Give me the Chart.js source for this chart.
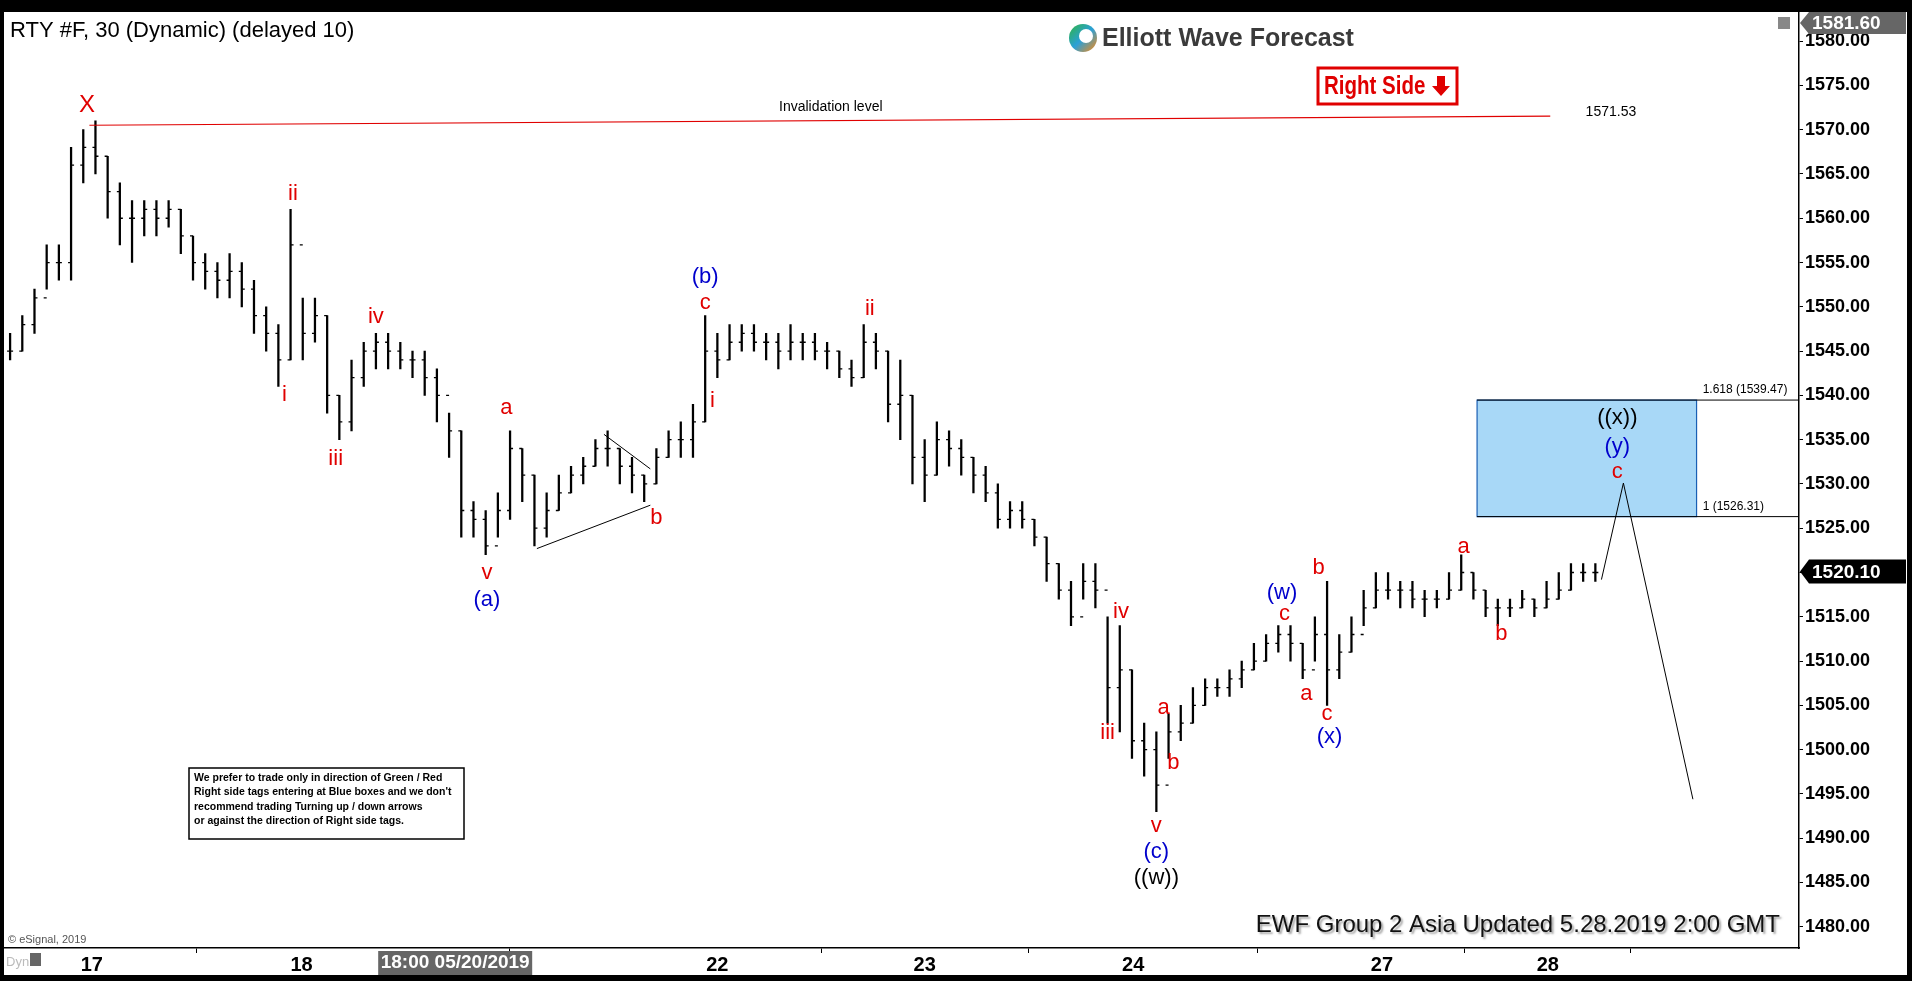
<!DOCTYPE html>
<html><head><meta charset="utf-8">
<script src="https://cdn.jsdelivr.net/npm/chart.js@4.4.1/dist/chart.umd.min.js"></script>
<style>html,body{margin:0;padding:0;background:#000;}#wrap{width:1912px;height:981px;}</style>
</head><body><div id="wrap"><canvas id="c" width="1912" height="981"></canvas></div>
<script>
// ---- data (one bar per ~10 reference px, 30-min RTY futures) ----
const highs = [1547,1549,1552,1557,1557,1568,1570,1571,1567,1564,1562,1562,1562,1562,1561,1558,1556,1555,1556,1555,1553,1550,1548,1561,1551,1551,1549,1540,1544,1546,1547,1547,1546,1545,1545,1543,1538,1536,1528,1527,1529,1536,1534,1531,1529,1531,1532,1533,1535,1536,1534,1533,1531,1534,1536,1537,1539,1549,1547,1548,1548,1548,1547,1547,1548,1547,1547,1546,1545,1544,1548,1547,1545,1544,1540,1535,1537,1536,1535,1533,1532,1530,1528,1528,1526,1524,1521,1519,1521,1521,1515,1514,1509,1503,1502,1504,1505,1507,1508,1508,1509,1510,1512,1513,1514,1514,1512,1515,1519,1513,1515,1518,1520,1520,1519,1519,1518,1518,1520,1522,1520,1518,1517,1517,1518,1517,1519,1520,1521,1521,1521];
const lows  = [1544,1545,1547,1552,1553,1553,1564,1565,1560,1557,1555,1558,1558,1559,1556,1553,1552,1551,1551,1550,1547,1545,1541,1544,1544,1546,1538,1535,1536,1541,1543,1543,1543,1542,1540,1537,1533,1524,1524,1522,1524,1526,1528,1523,1524,1527,1529,1530,1532,1532,1530,1529,1528,1530,1533,1533,1533,1537,1542,1544,1545,1545,1544,1543,1544,1544,1544,1543,1542,1541,1542,1543,1537,1535,1530,1528,1531,1532,1531,1529,1528,1525,1525,1525,1523,1519,1517,1514,1517,1516,1503,1502,1499,1497,1493,1499,1501,1503,1505,1506,1506,1507,1509,1510,1511,1510,1508,1510,1505,1508,1511,1514,1516,1517,1516,1516,1515,1516,1517,1518,1517,1515,1514,1515,1516,1515,1516,1517,1518,1519,1519];
const closes= [1545,1548,1551,1555,1555,1566,1568,1567,1563,1560,1560,1561,1560,1561,1558,1555,1554,1553,1554,1552,1549,1547,1544,1557,1547,1549,1540,1537,1542,1545,1546,1545,1544,1544,1542,1540,1536,1527,1526,1523,1527,1534,1531,1525,1527,1529,1531,1532,1534,1534,1532,1531,1530,1533,1535,1535,1537,1545,1544,1546,1547,1546,1546,1545,1546,1546,1545,1545,1543,1542,1546,1545,1539,1540,1533,1531,1535,1534,1533,1531,1529,1526,1527,1526,1524,1521,1518,1515,1519,1518,1507,1509,1501,1500,1496,1502,1503,1505,1507,1507,1508,1509,1510,1512,1513,1512,1509,1513,1509,1511,1513,1516,1518,1518,1518,1517,1517,1517,1518,1520,1518,1516,1516,1516,1517,1516,1517,1518,1520,1520,1520];
const dayTickPos = [7.2, 24.4, 58.5, 75.5, 92.6, 113, 126.6];
const dayTickLabels = ["17","18","22","23","24","27","28"];
const invalidation = 1571.53;
const fibHigh = 1539.47, fibLow = 1526.31;
const lastPrice = 1520.10, topPrice = 1581.60;
// wave labels: [text, x (bar units), price, colour]
const R='#e00000', B='#0000cc', K='#000';
const waveLabels = [
 ["X",6.8,1572.7,R],["ii",23.7,1562.7,R],["i",23.0,1540.0,R],["iii",27.2,1532.8,R],["iv",30.5,1548.9,R],
 ["v",39.6,1519.9,R],["(a)",39.6,1516.9,B],["a",41.2,1538.6,R],["b",53.5,1526.2,R],
 ["(b)",57.5,1553.4,B],["c",57.5,1550.4,R],["i",58.1,1539.4,R],["ii",71.0,1549.8,R],
 ["iv",91.6,1515.5,R],["iii",90.5,1501.9,R],["a",95.1,1504.7,R],["b",95.9,1498.5,R],
 ["v",94.5,1491.4,R],["(c)",94.5,1488.5,B],["((w))",94.5,1485.5,K],
 ["(w)",104.8,1517.7,B],["c",105.0,1515.3,R],["a",106.8,1506.3,R],["b",107.8,1520.5,R],["c",108.5,1504.0,R],["(x)",108.7,1501.4,B],
 ["a",119.7,1522.9,R],["b",122.8,1513.1,R],["((x))",132.3,1537.5,K],["(y)",132.3,1534.2,B],["c",132.3,1531.4,R]
];
const triangleLines = [[[43.7,1522.7],[53.0,1527.6]],[[49.2,1535.6],[53.0,1531.7]]];
const projection = [[131.0,1519.2],[132.8,1530.1],[138.5,1494.4]];
const invLine = [[7.0,1570.5],[126.8,invalidation]];
const boxX = [120.8, 138.8];

const barData = highs.map((h,i)=>({x:i+0.5, y:[lows[i],h]}));
const FONT = '"Liberation Sans", Arial, sans-serif';

const deco = {
 id:'deco',
 beforeDraw(c){ const g=c.ctx; g.save(); g.fillStyle='#fff'; g.fillRect(0,0,1912,981); g.restore(); },
 afterDatasetsDraw(c){
  const g=c.ctx, xs=c.scales.x, ys=c.scales.y, a=c.chartArea;
  const X=v=>xs.getPixelForValue(v), Y=v=>ys.getPixelForValue(v);
  g.save();
  g.beginPath(); g.rect(a.left,a.top,a.right-a.left,a.bottom-a.top); g.clip();
  g.strokeStyle='#000'; g.lineWidth=1.3;
  closes.forEach((cl,i)=>{ const op=i?closes[i-1]:cl; const x=X(i+0.5);
    g.beginPath(); g.moveTo(x-3,Y(op)); g.lineTo(x,Y(op)); g.moveTo(x,Y(cl)); g.lineTo(x+3,Y(cl)); g.stroke(); });
  const bx1=X(boxX[0]), bx2=X(boxX[1]), by1=Y(fibHigh), by2=Y(fibLow);
  g.fillStyle='#a8d8f7'; g.fillRect(bx1,by1,bx2-bx1,by2-by1);
  g.strokeStyle='#1a5fb4'; g.lineWidth=1.2; g.strokeRect(bx1,by1,bx2-bx1,by2-by1);
  g.strokeStyle='#000'; g.lineWidth=1;
  g.beginPath(); g.moveTo(bx1,by1); g.lineTo(a.right,by1); g.moveTo(bx1,by2); g.lineTo(a.right,by2); g.stroke();
  g.font='12px '+FONT; g.fillStyle='#000'; g.textAlign='left'; g.textBaseline='middle';
  g.fillText('1.618 ('+fibHigh.toFixed(2)+')', X(139.3), by1-10);
  g.fillText('1 ('+fibLow.toFixed(2)+')', X(139.3), by2-10);
  g.strokeStyle='#e00000'; g.lineWidth=1.2;
  g.beginPath(); g.moveTo(X(invLine[0][0]),Y(invLine[0][1])); g.lineTo(X(invLine[1][0]),Y(invLine[1][1])); g.stroke();
  g.font='14px '+FONT; g.fillStyle='#000'; g.textAlign='center';
  g.fillText('Invalidation level', X(67.8), Y(1572.6));
  g.textAlign='left'; g.fillText(invalidation.toFixed(2), X(129.7), Y(1572.0));
  g.strokeStyle='#000'; g.lineWidth=1;
  triangleLines.forEach(l=>{g.beginPath(); g.moveTo(X(l[0][0]),Y(l[0][1])); g.lineTo(X(l[1][0]),Y(l[1][1])); g.stroke();});
  g.beginPath(); projection.forEach((p,i)=>{ i?g.lineTo(X(p[0]),Y(p[1])):g.moveTo(X(p[0]),Y(p[1])); }); g.stroke();
  g.textAlign='center'; g.textBaseline='middle';
  waveLabels.forEach(w=>{ g.font=(w[0]==='X'?'24px ':'22px ')+FONT; g.fillStyle=w[3]; g.fillText(w[0],X(w[1]),Y(w[2])); });
  g.restore();
  g.save();
  g.font='22px '+FONT; g.fillStyle='#000'; g.textAlign='left'; g.textBaseline='middle';
  g.fillText('RTY #F, 30 (Dynamic) (delayed 10)', 10, 31);
  const grd=g.createLinearGradient(1070,25,1096,51); grd.addColorStop(0,'#2fb34a'); grd.addColorStop(0.5,'#2aa0d8'); grd.addColorStop(1,'#f08a1c');
  g.fillStyle=grd; g.beginPath(); g.arc(1083,38,14,0,Math.PI*2); g.fill();
  g.fillStyle='#fff'; g.beginPath(); g.arc(1086,36,7,0,Math.PI*2); g.fill();
  g.font='bold 25px '+FONT; g.fillStyle='#3a3a3a'; g.fillText('Elliott Wave Forecast',1102,39);
  // right side tag
  g.strokeStyle='#e00000'; g.lineWidth=3; g.strokeRect(1318,68,139,36);
  g.save(); g.translate(1324,87); g.scale(0.82,1);
  g.font='bold 25px '+FONT; g.fillStyle='#e00000'; g.fillText('Right Side',0,0); g.restore();
  g.fillStyle='#e00000';
  g.beginPath(); g.moveTo(1437,76); g.lineTo(1445,76); g.lineTo(1445,86); g.lineTo(1450,86); g.lineTo(1441,96); g.lineTo(1432,86); g.lineTo(1437,86); g.closePath(); g.fill();
  g.fillStyle='#fff'; g.fillRect(189,768,275,71); g.strokeStyle='#000'; g.lineWidth=1.5; g.strokeRect(189,768,275,71);
  g.font='bold 10.5px '+FONT; g.fillStyle='#000';
  ["We prefer to trade only in direction of Green / Red","Right side tags entering at Blue boxes and we don't","recommend trading Turning up / down arrows","or against the direction of Right side tags."].forEach((t,i)=>g.fillText(t,194,778+i*14.5));
  g.font='24px '+FONT; g.textAlign='right'; g.fillStyle='#111';
  g.shadowColor='rgba(0,0,0,0.35)'; g.shadowOffsetX=2; g.shadowOffsetY=2; g.shadowBlur=2;
  g.fillText('EWF Group 2 Asia Updated 5.28.2019 2:00 GMT', 1780, 925);
  g.shadowColor='transparent';
  g.font='11px '+FONT; g.textAlign='left'; g.fillStyle='#555'; g.fillText('© eSignal, 2019', 8, 940);
  g.font='13px '+FONT; g.fillStyle='#bbb'; g.fillText('Dyn', 6, 962);
  g.fillStyle='#666'; g.fillRect(30,953,11,13);
  g.fillStyle='#666'; g.fillRect(X(37)-77,951,154,24);
  g.font='bold 19px '+FONT; g.fillStyle='#fff'; g.textAlign='center'; g.fillText('18:00 05/20/2019', X(37), 963);
  const ly=Y(lastPrice);
  g.fillStyle='#000'; g.beginPath(); g.moveTo(a.right+1,ly); g.lineTo(a.right+10,ly-12); g.lineTo(1906,ly-12); g.lineTo(1906,ly+12); g.lineTo(a.right+10,ly+12); g.closePath(); g.fill();
  g.font='bold 19px '+FONT; g.fillStyle='#fff'; g.textAlign='left'; g.fillText(lastPrice.toFixed(2), 1812, ly+1);
  const ty=23;
  g.fillStyle='#666'; g.beginPath(); g.moveTo(a.right+1,ty); g.lineTo(a.right+10,ty-11); g.lineTo(1906,ty-11); g.lineTo(1906,ty+11); g.lineTo(a.right+10,ty+11); g.closePath(); g.fill();
  g.fillStyle='#fff'; g.fillText(topPrice.toFixed(2), 1812, ty+1);
  g.fillStyle='#888'; g.fillRect(1778,17,12,12);
  g.fillStyle='#000'; g.fillRect(0,0,1912,12); g.fillRect(0,975,1912,6); g.fillRect(0,0,4,981); g.fillRect(1907,0,5,981);
  g.restore();
 }
};

new Chart(document.getElementById('c'),{
 type:'bar',
 data:{datasets:[{data:barData, backgroundColor:'#000', borderWidth:0, barThickness:1.6, grouped:false}]},
 options:{
  responsive:false, animation:false, devicePixelRatio:1,
  layout:{padding:{left:4,top:12,right:5,bottom:6}},
  plugins:{legend:{display:false},tooltip:{enabled:false}},
  scales:{
   x:{type:'linear',min:0,max:147.2,offset:false,
      afterBuildTicks:s=>{s.ticks=dayTickPos.map(v=>({value:v}));},
      afterFit:s=>{s.height=27;},
      grid:{drawOnChartArea:false,drawTicks:true,tickLength:5,color:'#000'},
      border:{color:'#000',width:1.5},
      ticks:{autoSkip:false,maxRotation:0,padding:0,color:'#000',font:{family:FONT,size:20,weight:'bold'},
        callback:(v,i)=>dayTickLabels[i]}},
   y:{position:'right',min:1477.6,max:1583.2,
      afterBuildTicks:s=>{const t=[];for(let v=1480;v<=1580;v+=5)t.push({value:v});s.ticks=t;},
      afterFit:s=>{s.width=108;},
      grid:{drawOnChartArea:false,drawTicks:true,tickLength:4,color:'#000'},
      border:{color:'#000',width:1.5},
      ticks:{padding:2,color:'#000',font:{family:FONT,size:18,weight:'bold'},callback:v=>Number(v).toFixed(2)}}
  }
 },
 plugins:[deco]
});
</script></body></html>
